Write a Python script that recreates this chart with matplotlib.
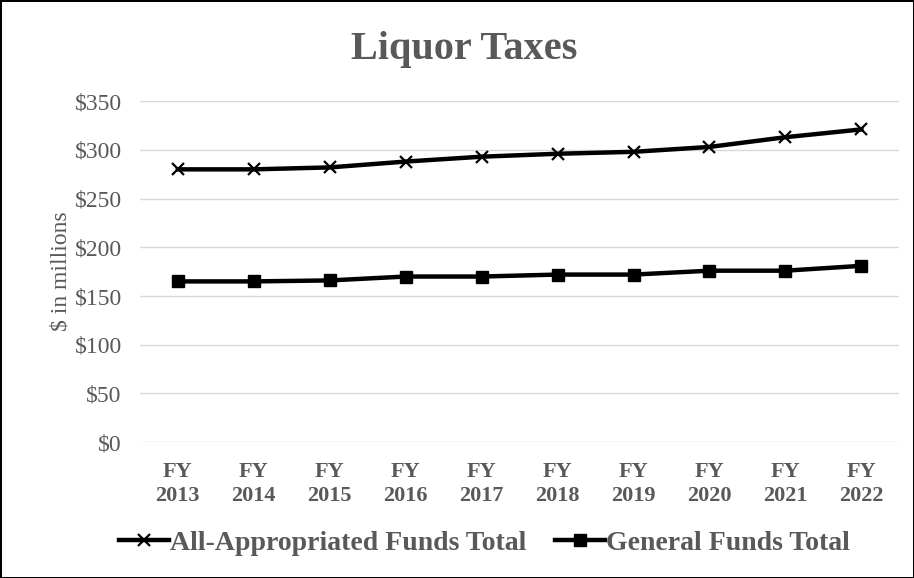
import matplotlib
matplotlib.use("Agg")
import matplotlib.pyplot as plt
import numpy as np

# Values ($ in millions)
years = ["FY\n2013", "FY\n2014", "FY\n2015", "FY\n2016", "FY\n2017",
         "FY\n2018", "FY\n2019", "FY\n2020", "FY\n2021", "FY\n2022"]
all_funds = [280, 280, 282, 288, 293, 296, 298, 303, 313, 321]
general_funds = [165, 165, 166, 170, 170, 172, 172, 176, 176, 181]
y_ticks = [0, 50, 100, 150, 200, 250, 300, 350]

plt.rcParams["font.family"] = ["Liberation Serif", "DejaVu Serif"]
text_gray = "#595959"

fig = plt.figure(figsize=(9.14, 5.78), dpi=100)
fig.patch.set_edgecolor("black")
fig.patch.set_linewidth(2)
ax = fig.add_axes([0.153, 0.235, 0.831, 0.59])

x = np.arange(len(years))
ax.plot(x, all_funds, color="black", linewidth=3.2, marker="x",
        markersize=9, markeredgewidth=1.6, label="All-Appropriated Funds Total")
ax.plot(x, general_funds, color="black", linewidth=3.2, marker="s",
        markersize=8.5, label="General Funds Total")

ax.set_xlim(-0.5, len(years) - 0.5)
ax.set_ylim(0, 350)
ax.set_yticks(y_ticks)
ax.set_yticklabels([f"${v}" for v in y_ticks], color=text_gray, fontsize=17)
ax.set_xticks(x)
ax.set_xticklabels(years, color=text_gray, fontsize=16, fontweight="bold",
                   linespacing=1.22)
ax.tick_params(length=0, axis="y", pad=13)
ax.tick_params(length=0, axis="x", pad=14.5)
ax.grid(axis="y", color="#d9d9d9", linewidth=1)
ax.set_axisbelow(True)
for s in ax.spines.values():
    s.set_visible(False)

ax.set_ylabel("$ in millions", color=text_gray, fontsize=17, labelpad=2)

fig.text(0.508, 0.915, "Liquor Taxes", ha="center", va="center",
         fontsize=29, fontweight="bold", color=text_gray)

fig.legend(loc="center", bbox_to_anchor=(0.53, 0.06), ncol=2, frameon=False,
           prop={"size": 20, "weight": "bold"}, labelcolor=text_gray,
           handlelength=1.8, handletextpad=0.05, columnspacing=1.0)

fig.savefig("out.png", dpi=100, edgecolor=fig.get_edgecolor())
